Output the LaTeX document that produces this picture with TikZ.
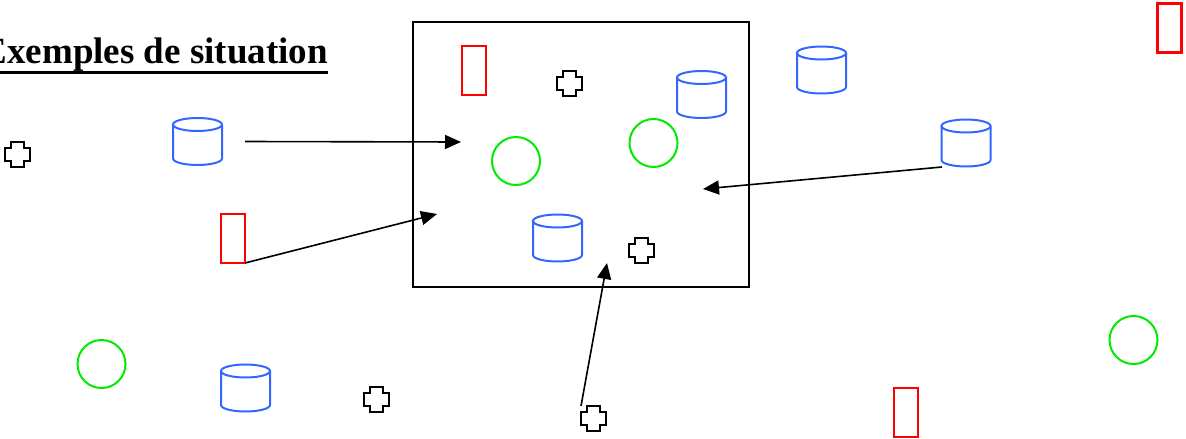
\documentclass[tikz,border=0pt]{standalone}
\usepackage{fontspec}
\setmainfont{Liberation Serif}
\usetikzlibrary{positioning,shapes,arrows,arrows.meta}

\definecolor{cylblue}{RGB}{51,102,255}
\definecolor{ringgreen}{RGB}{0,235,0}

\begin{document}
\begin{tikzpicture}[x=1pt,y=-1pt]
\tikzstyle{every node}+=[inner sep=0pt,outer sep=0pt]
\tikzstyle{cylbox}=[rectangle,minimum width=49pt,minimum height=47pt]
\tikzstyle{cylline}=[draw=cylblue,line width=2pt]
\tikzstyle{ring}=[draw=ringgreen,line width=2pt,circle,minimum size=48pt]
\tikzstyle{bar}=[draw=red,line width=2pt,rectangle,minimum width=24pt,minimum height=49pt]
\tikzstyle{crossbox}=[rectangle,minimum size=25pt]
\tikzstyle{plus}=[black,line width=2pt,line join=miter]
\tikzstyle{link}=[black,line width=1.6pt,-{Triangle[length=16pt,width=14pt]}]
\useasboundingbox (0,0) rectangle (1186,439);

% title
\node[anchor=base east,font=\fontsize{37}{40}\selectfont\bfseries] (title) at (328,63) {Exemples de situation};
\draw[line width=3pt] ([yshift=-9pt]title.base west) -- ([yshift=-9pt]title.base east);

% the zone
\node[draw,line width=2pt,minimum width=336pt,minimum height=265pt] (zone) at (581,154.5) {};

% cylinders
\foreach \n/\x/\y in {cyl1/197.5/141.5, cyl2/701.5/94.5, cyl3/557.5/238, cyl4/821.5/70, cyl5/966/143, cyl6/245.5/388} {
  \node[cylbox] (\n) at (\x,\y) {};
  \draw[cylline] (\n.center) ++(0,-17) ellipse (24.5 and 6.5);
  \draw[cylline] (\n.center) ++(-24.5,-17) -- ++(0,34) arc (180:0:24.5 and 6.5) -- ++(0,-34);
}

% circles
\node[ring] (ring1) at (516,161) {};
\node[ring] (ring2) at (653.5,143) {};
\node[ring] (ring3) at (101.5,364) {};
\node[ring] (ring4) at (1133.5,340) {};

% rectangles
\node[bar] (bar1) at (473.5,70.5) {};
\node[bar] (bar2) at (233,238.5) {};
\node[bar,line width=3pt] (bar3) at (1169.5,27.5) {};
\node[bar] (bar4) at (905.5,412) {};

% crosses
\foreach \n/\x/\y in {crx1/17/154, crx2/569/83, crx3/641.5/250.5, crx4/376/399.5, crx5/593.5/418.5} {
  \node[crossbox] (\n) at (\x,\y) {};
  \draw[plus] (\n.center) ++(-6.5,-12.5) -- ++(13,0) -- ++(0,6) -- ++(6,0) -- ++(0,13) -- ++(-6,0)
    -- ++(0,6) -- ++(-13,0) -- ++(0,-6) -- ++(-6,0) -- ++(0,-13) -- ++(6,0) -- cycle;
}

% arrows into the zone
\coordinate (h1) at (461,142);
\coordinate (h2) at (437,214);
\coordinate (h3) at (703,189);
\coordinate (h4) at (607,263);
\draw[link] ([xshift=47.5pt]cyl1.center) -- (h1);
\draw[link] (bar2.south east) -- (h2);
\draw[link] ([xshift=-24pt,yshift=-24pt]cyl5.center) -- (h3);
\draw[link] (crx5.north west) -- (h4);
\end{tikzpicture}
\end{document}
